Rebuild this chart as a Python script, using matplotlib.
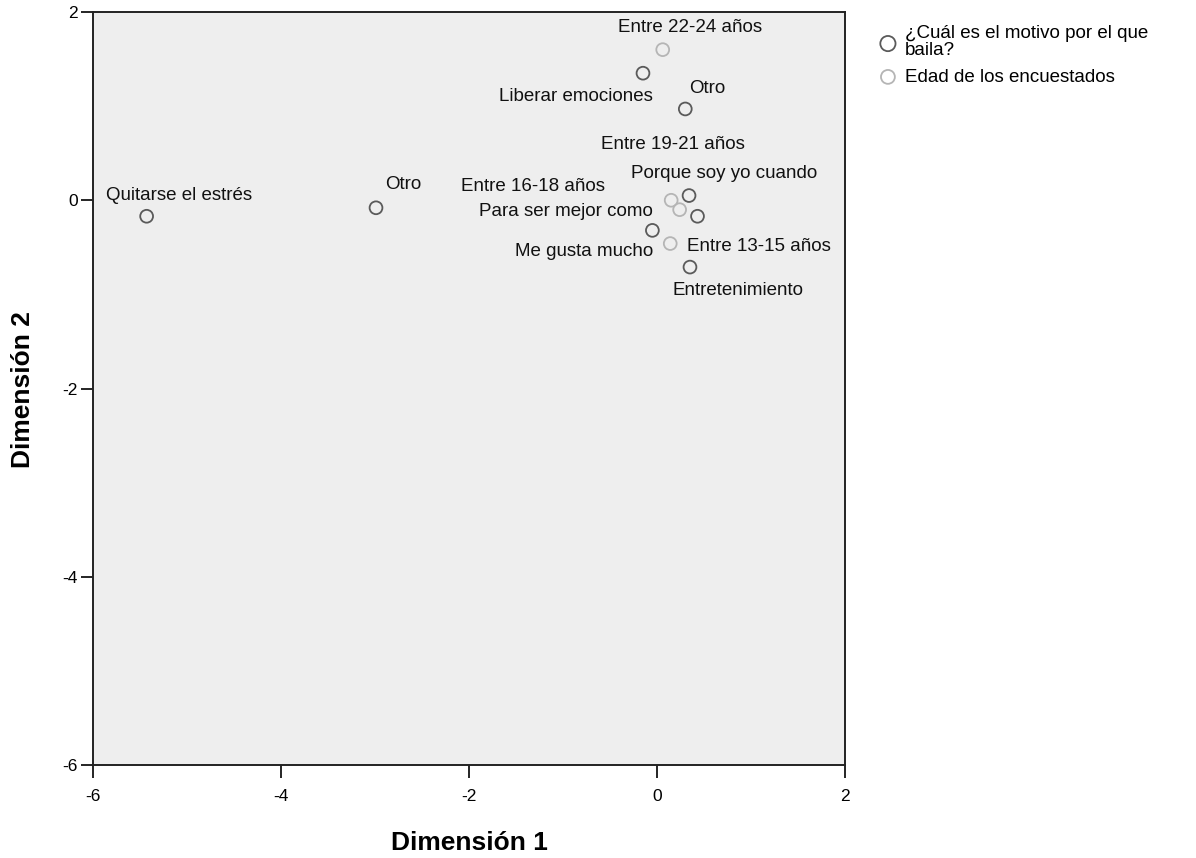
import matplotlib
matplotlib.use("Agg")
import matplotlib.pyplot as plt

plt.rcParams["font.family"] = ["Liberation Sans", "DejaVu Sans"]
plt.rcParams["axes.unicode_minus"] = False

# Category points, joint plot of category points (dimension 1, dimension 2)
motivo_labels = ["Quitarse el estrés", "Otro", "Liberar emociones", "Otro",
                 "Porque soy yo cuando", "Para ser mejor como",
                 "Me gusta mucho", "Entretenimiento"]
motivo_dim1 = [-5.43, -2.99, -0.15, 0.30, 0.34, 0.43, -0.05, 0.35]
motivo_dim2 = [-0.17, -0.08, 1.35, 0.97, 0.05, -0.17, -0.32, -0.71]

edad_labels = ["Entre 22-24 años", "Entre 19-21 años", "Entre 16-18 años",
               "Entre 13-15 años"]
edad_dim1 = [0.06, 0.15, 0.24, 0.14]
edad_dim2 = [1.60, 0.00, -0.10, -0.46]

legend_labels = ["¿Cuál es el motivo por el que\nbaila?", "Edad de los encuestados"]
ticks = [-6, -4, -2, 0, 2]

# label offsets (pixels) from each point, as placed in the original
motivo_offsets = [(32, 21), (27, 23), (-67, -23), (22, 20),
                  (35, 22), (-132, 5), (-68, -21), (48, -23)]
edad_offsets = [(27, 22), (2, 56), (-147, 23), (89, -3)]

fig = plt.figure(figsize=(11.96, 8.58), dpi=100)
fig.patch.set_facecolor("white")
ax = fig.add_axes([0.0778, 0.1084, 0.6288, 0.8776])
ax.set_facecolor("#eeeeee")

ax.scatter(motivo_dim1, motivo_dim2, s=85, facecolors="none",
           edgecolors="#5a5a5a", linewidths=1.3, zorder=3)
ax.scatter(edad_dim1, edad_dim2, s=85, facecolors="none",
           edgecolors="#b5b5b5", linewidths=1.3, zorder=3)

for lab, x, y, off in zip(motivo_labels, motivo_dim1, motivo_dim2, motivo_offsets):
    ax.annotate(lab, (x, y), xytext=off, textcoords="offset pixels",
                ha="center", va="center", fontsize=13.5, color="#111111")
for lab, x, y, off in zip(edad_labels, edad_dim1, edad_dim2, edad_offsets):
    ax.annotate(lab, (x, y), xytext=off, textcoords="offset pixels",
                ha="center", va="center", fontsize=13.5, color="#111111")

ax.set_xlim(-6, 2)
ax.set_ylim(-6, 2)
ax.set_xticks(ticks)
ax.set_yticks(ticks)
ax.tick_params(direction="out", length=9, width=1.2, labelsize=12.5,
               top=False, right=False)
ax.tick_params(axis="x", pad=8)
ax.tick_params(axis="y", pad=2)
for sp in ax.spines.values():
    sp.set_linewidth(1.4)
    sp.set_color("#222222")

ax.set_xlabel("Dimensión 1", fontsize=19, fontweight="bold")
ax.set_ylabel("Dimensión 2", fontsize=19, fontweight="bold")
ax.xaxis.set_label_coords(0.5, -0.1036)
ax.xaxis.label.set_va("center")
ax.yaxis.set_label_coords(-0.0931, 0.498)
ax.yaxis.label.set_va("center")

h1 = ax.scatter([], [], s=120, facecolors="none", edgecolors="#5a5a5a", linewidths=1.3)
h2 = ax.scatter([], [], s=100, facecolors="none", edgecolors="#b5b5b5", linewidths=1.3)
leg = fig.legend([h1, h2], legend_labels, loc="upper left",
                 bbox_to_anchor=(0.7283, 0.980), frameon=False, fontsize=13.5,
                 handletextpad=0.4, labelspacing=0.5, borderaxespad=0,
                 handlelength=1.0)
for t in leg.get_texts():
    t.set_linespacing(1.05)

fig.savefig("out.png", dpi=100)
